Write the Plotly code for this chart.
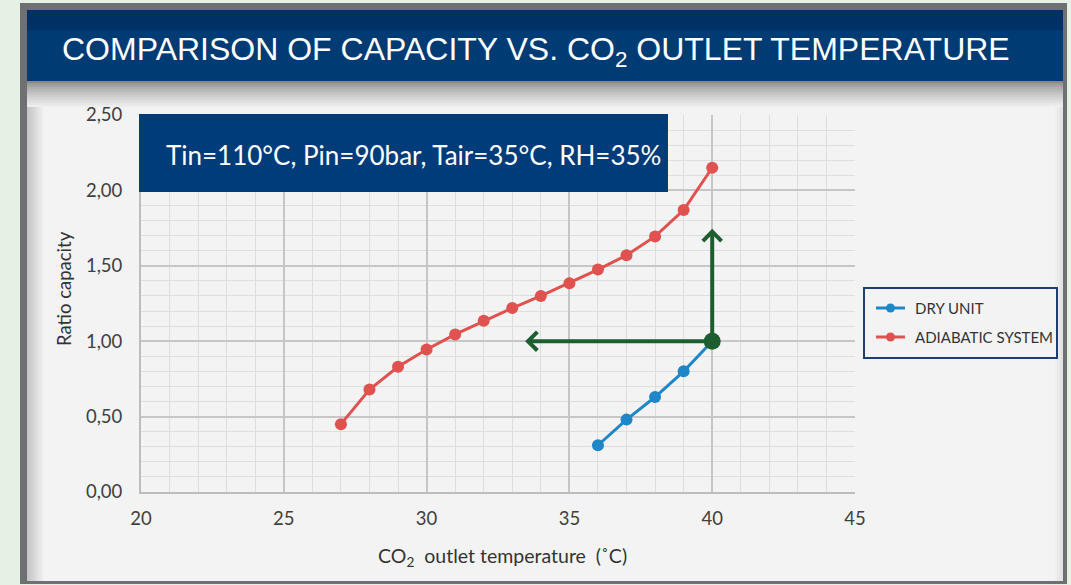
import plotly.graph_objects as go

# ---- data ----
dry_temp = [36, 37, 38, 39, 40]
dry_ratio = [0.31, 0.48, 0.63, 0.80, 1.00]
adi_temp = [27, 28, 29, 30, 31, 32, 33, 34, 35, 36, 37, 38, 39, 40]
adi_ratio = [0.45, 0.68, 0.83, 0.945, 1.045, 1.135, 1.22, 1.30, 1.385, 1.475, 1.57, 1.695, 1.87, 2.15]
ref_point = (40, 1.00)
arrow_left_tip = (33.45, 1.00)
arrow_up_tip = (40, 1.745)
x_ticks = [20, 25, 30, 35, 40, 45]
y_ticks = [0, 0.5, 1.0, 1.5, 2.0, 2.5]
series_names = ["DRY UNIT", "ADIABATIC SYSTEM"]
title_text = "COMPARISON OF CAPACITY VS. CO<sub>2</sub> OUTLET TEMPERATURE"
cond_text = "Tin=110°C, Pin=90bar, Tair=35°C, RH=35%"

W, H = 1071, 585
L, R, T, B = 141, 855, 115, 492  # plot area in pixels


def px(xp):
    return (xp - L) / (R - L)


def py(yp):
    return (B - yp) / (B - T)


BLUE = "#1f86c8"
RED = "#e0524f"
GREEN = "#1c5e2f"
NAVY = "#003b74"
TICK_FONT = "Lato"

fig = go.Figure()
fig.add_trace(go.Scatter(x=dry_temp, y=dry_ratio, mode="lines+markers", name=series_names[0],
                         line=dict(color=BLUE, width=3), marker=dict(size=12, color=BLUE)))
fig.add_trace(go.Scatter(x=adi_temp, y=adi_ratio, mode="lines+markers", name=series_names[1],
                         line=dict(color=RED, width=3), marker=dict(size=12, color=RED)))
fig.add_trace(go.Scatter(x=[ref_point[0]], y=[ref_point[1]], mode="markers",
                         marker=dict(size=17, color=GREEN), showlegend=False))

shapes = []
# gray frame and panels
shapes.append(dict(type="rect", xref="paper", yref="paper", x0=px(20), x1=px(1067), y0=py(3), y1=py(584),
                   fillcolor="#6f7074", line=dict(width=0), layer="below"))
shapes.append(dict(type="rect", xref="paper", yref="paper", x0=px(27), x1=px(1063), y0=py(81), y1=py(581),
                   fillcolor="#f3f3f3", line=dict(width=0), layer="below"))
# top shading under title bar
n = 14
for i in range(n):
    t = i / (n - 1)
    c = int(0x88 + (0xf3 - 0x88) * (t ** 0.7))
    shapes.append(dict(type="rect", xref="paper", yref="paper", x0=px(27), x1=px(1063),
                       y0=py(81 + i * 2), y1=py(83 + i * 2),
                       fillcolor=f"rgb({c},{c},{c})", line=dict(width=0), layer="below"))
# left shading
n = 9
for i in range(n):
    t = i / (n - 1)
    c = int(0xc6 + (0xf3 - 0xc6) * t)
    shapes.append(dict(type="rect", xref="paper", yref="paper", x0=px(27 + i * 2), x1=px(29 + i * 2),
                       y0=py(107), y1=py(581),
                       fillcolor=f"rgb({c},{c},{c})", line=dict(width=0), layer="below"))
# right shading
n = 5
for i in range(n):
    t = i / (n - 1)
    c = int(0xe2 + (0xf3 - 0xe2) * t)
    shapes.append(dict(type="rect", xref="paper", yref="paper", x0=px(1063 - (i + 1) * 2), x1=px(1063 - i * 2),
                       y0=py(107), y1=py(581),
                       fillcolor=f"rgb({c},{c},{c})", line=dict(width=0), layer="below"))
# title bar
shapes.append(dict(type="rect", xref="paper", yref="paper", x0=px(27), x1=px(1063), y0=py(10), y1=py(81),
                   fillcolor=NAVY, line=dict(width=0), layer="below"))
shapes.append(dict(type="rect", xref="paper", yref="paper", x0=px(27), x1=px(1063), y0=py(10), y1=py(30),
                   fillcolor="rgba(0,20,60,0.25)", line=dict(width=0), layer="below"))
# condition box
shapes.append(dict(type="rect", xref="paper", yref="paper", x0=px(139), x1=px(668), y0=py(114), y1=py(192),
                   fillcolor="#003c79", line=dict(width=0), layer="above"))
# legend box
shapes.append(dict(type="rect", xref="paper", yref="paper", x0=px(864), x1=px(1057), y0=py(288), y1=py(358),
                   fillcolor="#f3f3f3", line=dict(color="#1f3c73", width=2), layer="above"))
for yy, col in [(308, BLUE), (337, RED)]:
    shapes.append(dict(type="line", xref="paper", yref="paper", x0=px(876), x1=px(905), y0=py(yy), y1=py(yy),
                       line=dict(color=col, width=3), layer="above"))
    shapes.append(dict(type="circle", xref="paper", yref="paper", x0=px(886), x1=px(895),
                       y0=py(yy - 4.5), y1=py(yy + 4.5), fillcolor=col, line=dict(width=0), layer="above"))

annotations = []
annotations.append(dict(text=title_text, xref="paper", yref="paper", x=px(60), y=py(51), xanchor="left",
                        yanchor="middle", showarrow=False,
                        font=dict(family="Liberation Sans", size=32, color="white")))
annotations.append(dict(text=cond_text, xref="paper", yref="paper", x=px(164), y=py(155), xanchor="left",
                        yanchor="middle", showarrow=False,
                        font=dict(family="Lato", size=26, color="white")))
for yy, name in [(308, series_names[0]), (337, series_names[1])]:
    annotations.append(dict(text=name, xref="paper", yref="paper", x=px(913), y=py(yy), xanchor="left",
                            yanchor="middle", showarrow=False,
                            font=dict(family=TICK_FONT, size=15, color="#333333")))
annotations.append(dict(text="Ratio capacity", xref="paper", yref="paper", x=px(64), y=py(289),
                        textangle=-90, showarrow=False, xanchor="center", yanchor="middle",
                        font=dict(family=TICK_FONT, size=18.5, color="#333333")))
annotations.append(dict(text="CO<sub>2</sub>  outlet temperature  (˚C)", xref="paper", yref="paper",
                        x=px(502), y=py(557), showarrow=False, xanchor="center", yanchor="middle",
                        font=dict(family=TICK_FONT, size=19.5, color="#333333")))
# green arrows
for tip in (arrow_left_tip, arrow_up_tip):
    annotations.append(dict(x=tip[0], y=tip[1], ax=ref_point[0], ay=ref_point[1], xref="x", yref="y",
                            axref="x", ayref="y", text="", showarrow=True, arrowhead=4, arrowsize=0.9,
                            arrowwidth=4, arrowcolor=GREEN, standoff=0, startstandoff=0))

fig.update_layout(
    width=W, height=H,
    margin=dict(l=L, r=W - R, t=T, b=H - B, pad=0),
    paper_bgcolor="#e7f0e5",
    plot_bgcolor="rgba(0,0,0,0)",
    separators=", ",
    showlegend=False,
    shapes=shapes,
    annotations=annotations,
    xaxis=dict(range=[20, 45], tickvals=x_ticks, showgrid=True, gridcolor="#c6c6c6", gridwidth=2,
               minor=dict(dtick=1, showgrid=True, gridcolor="#dedede", gridwidth=1),
               showline=True, linecolor="#bdbdbd", linewidth=2, zeroline=False,
               ticks="outside", ticklen=9, tickcolor="rgba(0,0,0,0)",
               tickfont=dict(family=TICK_FONT, size=18.5, color="#404040")),
    yaxis=dict(range=[0, 2.5], tickvals=y_ticks, tickformat=".2f", showgrid=True, gridcolor="#c6c6c6",
               gridwidth=2, minor=dict(dtick=0.1, showgrid=True, gridcolor="#dedede", gridwidth=1),
               showline=True, linecolor="#bdbdbd", linewidth=2, zeroline=False,
               ticks="outside", ticklen=13, tickcolor="rgba(0,0,0,0)",
               tickfont=dict(family=TICK_FONT, size=18.5, color="#404040")),
)

fig.write_html("out.html", config={"displayModeBar": False},
               post_script="document.body.style.margin='0';document.body.style.overflow='hidden';")
